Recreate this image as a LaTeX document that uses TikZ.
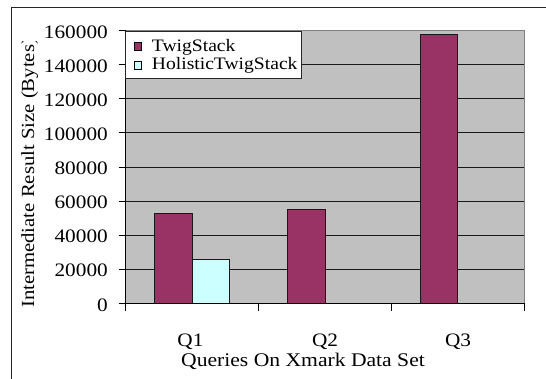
\documentclass[tikz,border=0pt]{standalone}
\usepackage{fontspec}
\setmainfont[FakeStretch=1.12]{Liberation Serif}
\definecolor{plotgrey}{HTML}{C0C0C0}
\definecolor{edgegrey}{HTML}{808080}
\definecolor{plum}{HTML}{993366}
\definecolor{paleblue}{HTML}{CCFFFF}
\tikzset{
  frameline/.style={draw=black!85, line width=1pt},
  gridline/.style={draw=black!90, line width=0.9pt},
  axisline/.style={draw=black, line width=0.9pt},
  bar/.style={draw=black!90, line width=0.9pt},
  ticklabel/.style={inner sep=0pt, font=\fontsize{19}{21}\selectfont},
  axistitle/.style={inner sep=0pt, font=\fontsize{19.3}{21}\selectfont},
  ytitlefont/.style={inner sep=0pt, font=\fontsize{18.5}{20}\selectfont},
  legendtext/.style={inner sep=0pt, anchor=base west, font=\fontsize{17.5}{19}\selectfont},
  legendkey/.style={draw=black, line width=0.8pt}
}
\begin{document}
\begin{tikzpicture}[x=1pt, y=-1pt]
  \useasboundingbox (0,0) rectangle (546,379);
  \clip (0,0) rectangle (546,379);

  % outer chart frame
  \draw[frameline] (11,8) rectangle (570,400);

  % plot area
  \fill[plotgrey] (125.5,30.7) rectangle (524,303.3);
  \draw[edgegrey, line width=0.9pt] (125.5,30.7) -- (524,30.7) -- (524,303.3);

  % horizontal gridlines
  \foreach \i in {1,...,7}
    \draw[gridline] (125.5,{303.3-\i*34.075}) -- (524,{303.3-\i*34.075});

  % bars
  \draw[bar, fill=plum]      (154.3,213.0) rectangle (192.3,303.3);
  \draw[bar, fill=paleblue]  (192.3,259.0) rectangle (229.7,303.3);
  \draw[bar, fill=plum]      (287.3,209.6) rectangle (325.0,303.3);
  \draw[bar, fill=plum]      (420.0,34.1)  rectangle (457.5,303.3);

  % axes and ticks
  \draw[axisline] (125.5,30.7) -- (125.5,303.3) -- (524,303.3);
  \foreach \i/\lab in {0/0,1/20000,2/40000,3/60000,4/80000,5/100000,6/120000,7/140000,8/160000} {
    \draw[axisline] (118.5,{303.3-\i*34.075}) -- (125.5,{303.3-\i*34.075});
    \node[ticklabel, anchor=east] (yl\i) at (108,{304.8-\i*34.075}) {\lab};
  }
  \foreach \x in {125.5,258.3,391.2,524}
    \draw[axisline] (\x,303.3) -- (\x,310.5);

  % category labels
  \node[ticklabel, anchor=base] (q1) at (190.5,346.7) {Q1};
  \node[ticklabel, anchor=base] (q2) at (325,346.7) {Q2};
  \node[ticklabel, anchor=base] (q3) at (458,346.7) {Q3};

  % axis titles
  \node[axistitle, anchor=base] (xtitle) at (303,366.7) {Queries On Xmark Data Set};
  \begin{scope}
    \clip (0,42) rectangle (120,379);
    \node[ytitlefont, rotate=90, anchor=base west] (ytitle) at (34,308) {Intermediate Result Size (Bytes)};
  \end{scope}

  % legend
  \draw[frameline, fill=white] (125.5,31.7) rectangle (301,78.3);
  \draw[legendkey, fill=plum]     (134,42.7) rectangle (141.5,50);
  \draw[legendkey, fill=paleblue] (134,61.7) rectangle (141.5,69);
  \node[legendtext] (lg1) at (151.7,51.7) {TwigStack};
  \node[legendtext] (lg2) at (151.7,70) {HolisticTwigStack};
\end{tikzpicture}
\end{document}
